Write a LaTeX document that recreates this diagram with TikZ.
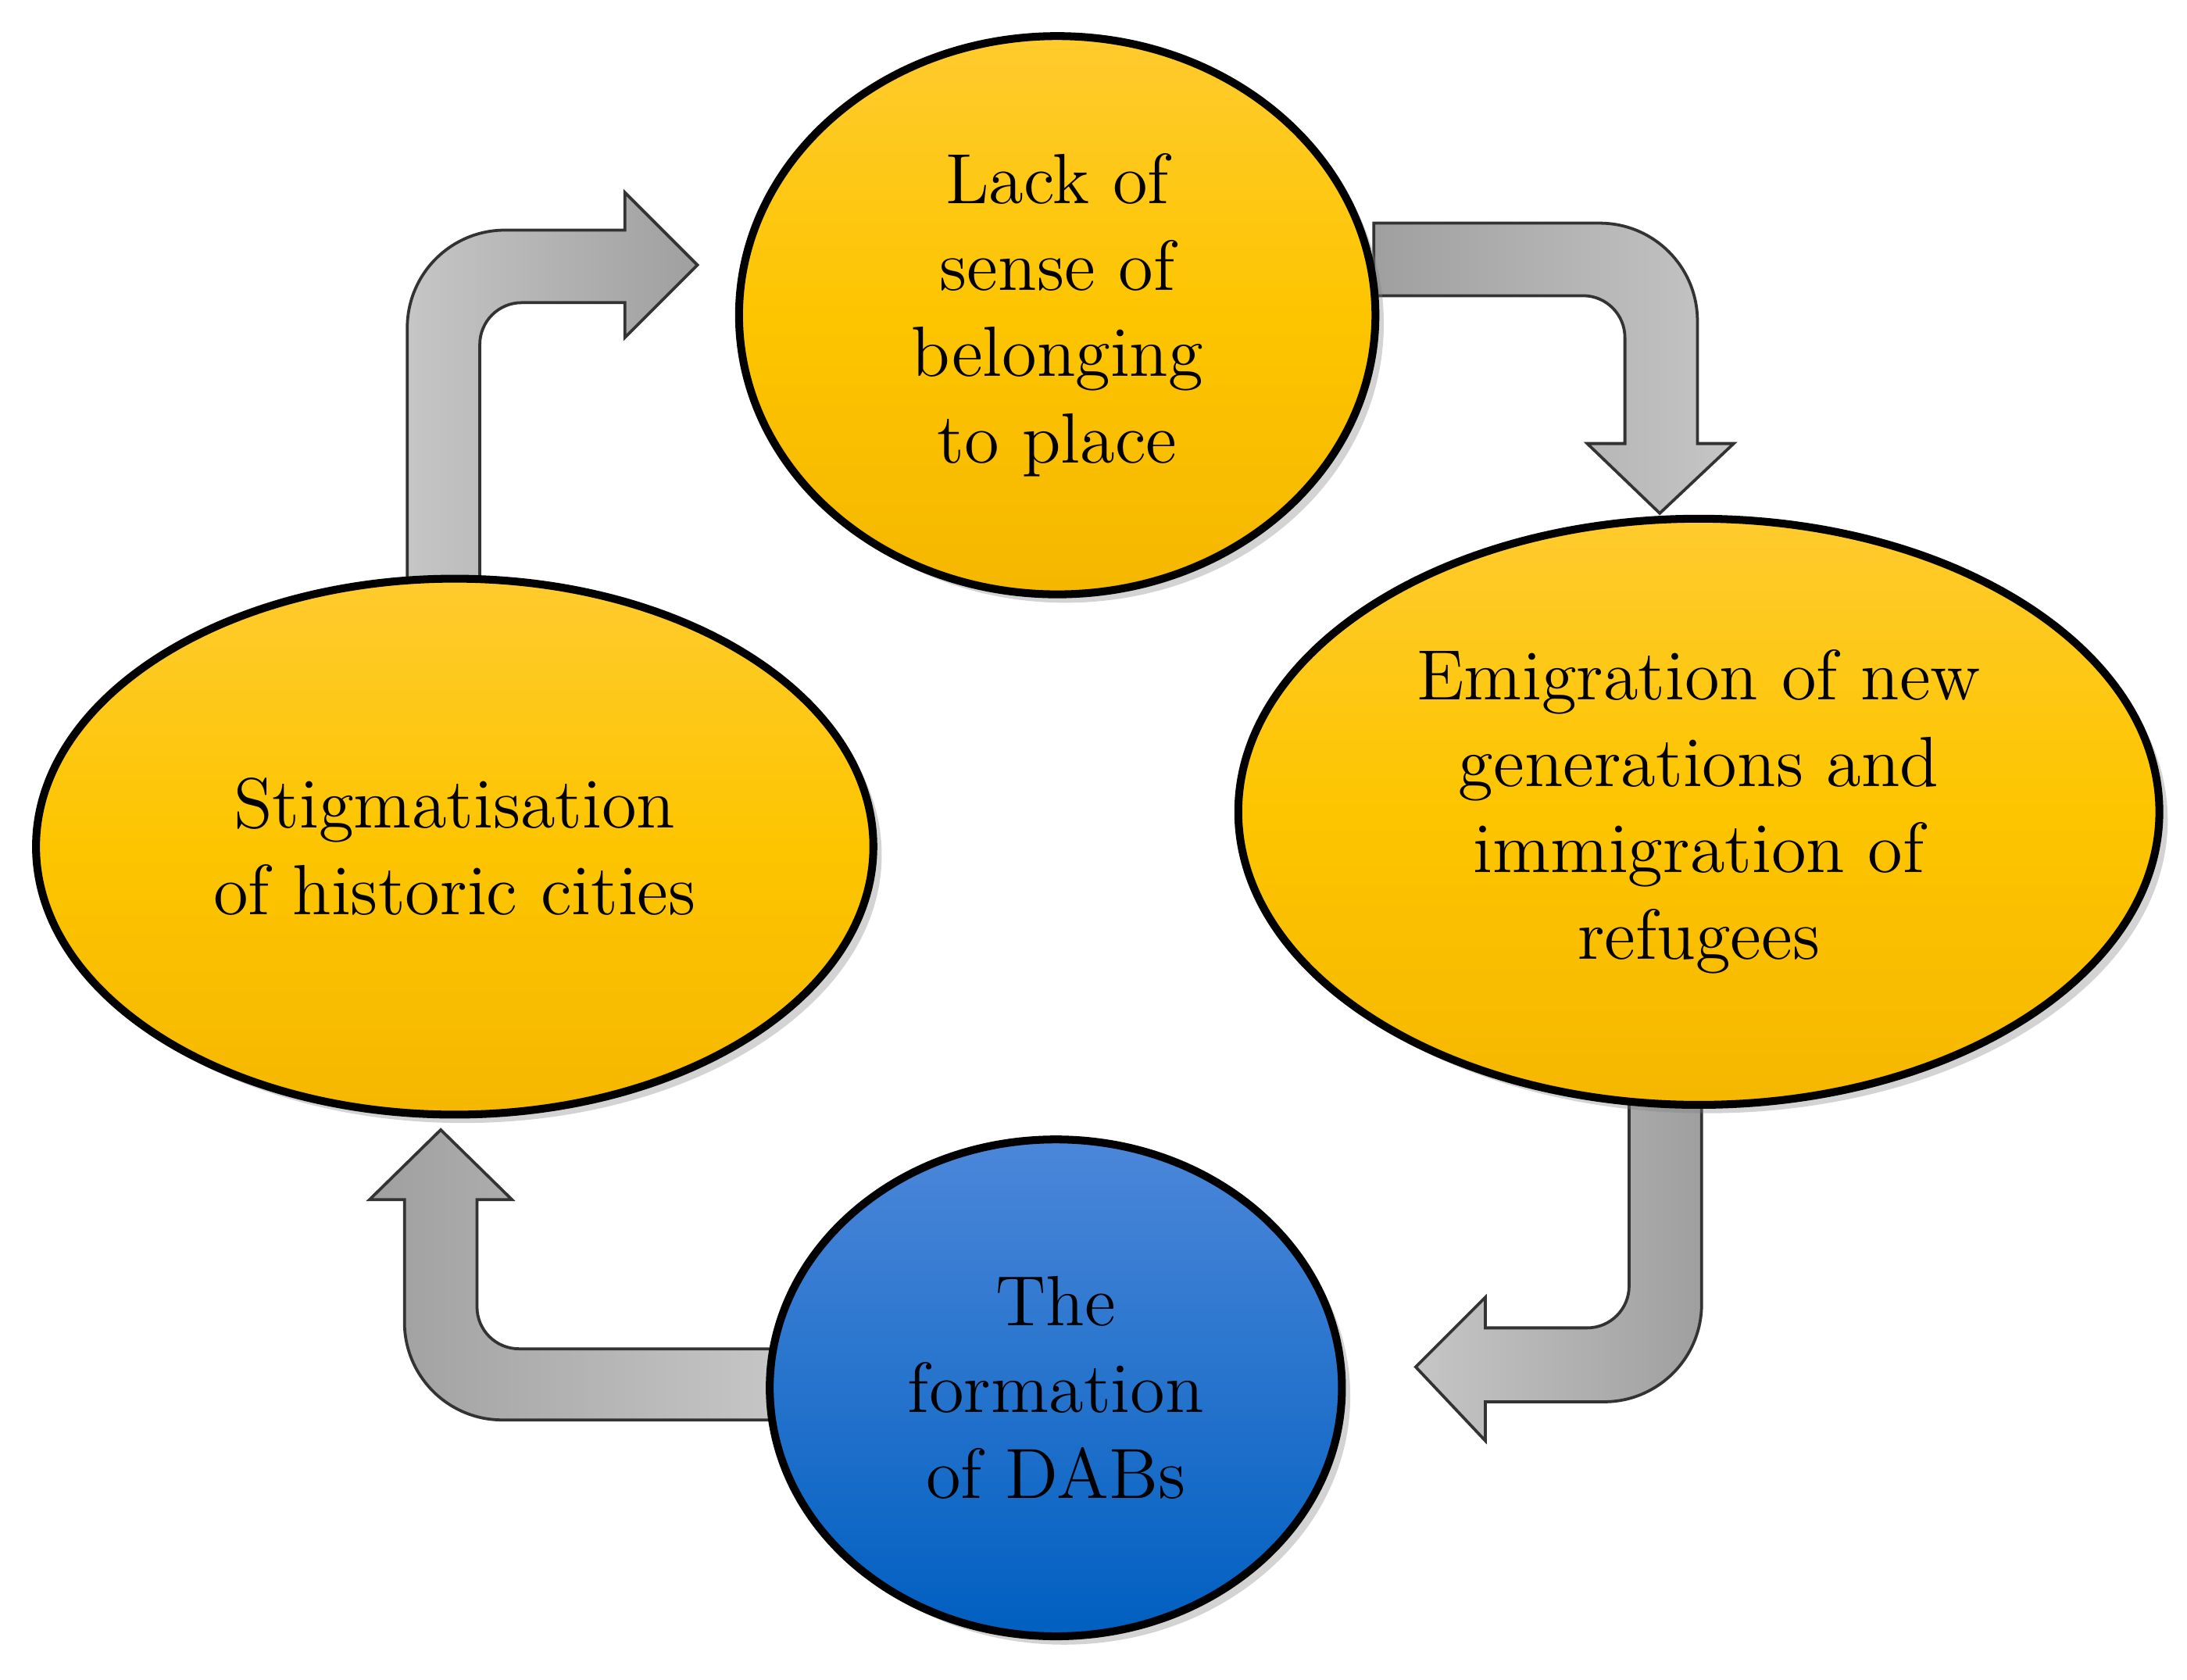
\documentclass[tikz,border=0pt]{standalone}
\usetikzlibrary{shadows,shapes.geometric}
\begin{document}
\begin{tikzpicture}[x=0.01cm,y=-0.01cm,
  arr/.style={draw=black!80,line width=0.6pt,top color=gray!75,bottom color=gray!45,shading angle=0},
  ell/.style={ellipse,draw=black,line width=1.6pt,drop shadow={opacity=0.35,shadow xshift=0.06cm,shadow yshift=-0.06cm},align=center,font=\fontsize{14.5}{17.6}\selectfont,inner sep=0pt},
]
\useasboundingbox (0,0) rectangle (1568,1204);
\definecolor{ytop}{HTML}{FFCB2E}\definecolor{ybot}{HTML}{F5B700}\definecolor{ymid}{HTML}{FDC500}
\definecolor{btop}{HTML}{4B87D9}\definecolor{bbot}{HTML}{005FC0}
% arrows
\path[arr,left color=gray!45,right color=gray!75,shading angle=90] (292,415) [rounded corners=0.7cm] -- (292,165) [sharp corners] -- (448,165) -- (448,138) -- (500,190) -- (448,242) -- (448,217) [rounded corners=0.3cm] -- (344,217) [sharp corners] -- (344,415) -- cycle;
\path[arr,left color=gray!75,right color=gray!45] (985,160) [rounded corners=0.7cm] -- (1217,160) [sharp corners] -- (1217,318) -- (1243,318) -- (1190,368) -- (1138,318) -- (1165,318) [rounded corners=0.3cm] -- (1165,212) [sharp corners] -- (985,212) -- cycle;
\path[arr,left color=gray!45,right color=gray!75] (1220,790) [rounded corners=0.7cm] -- (1220,1005) [sharp corners] -- (1065,1005) -- (1065,1033) -- (1015,980) -- (1065,930) -- (1065,952) [rounded corners=0.3cm] -- (1168,952) [sharp corners] -- (1168,790) -- cycle;
\path[arr,left color=gray!75,right color=gray!45] (555,1018) [rounded corners=0.7cm] -- (290,1018) [sharp corners] -- (290,860) -- (265,860) -- (316,810) -- (367,860) -- (342,860) [rounded corners=0.3cm] -- (342,967) [sharp corners] -- (555,967) -- cycle;
% ellipses
\node[ell,top color=ytop,bottom color=ybot,middle color=ymid,minimum width=4.56cm,minimum height=4.0cm] (top) at (758,226) {Lack of\\sense of\\belonging\\to place};
\node[ell,top color=ytop,bottom color=ybot,middle color=ymid,minimum width=6.6cm,minimum height=4.2cm] (right) at (1218,582) {Emigration of new\\generations and\\immigration of\\refugees};
\node[ell,top color=ytop,bottom color=ybot,middle color=ymid,minimum width=6.0cm,minimum height=3.84cm] (left) at (326,607) {Stigmatisation\\of historic cities};
\node[ell,top color=btop,bottom color=bbot,minimum width=4.1cm,minimum height=3.56cm] (dab) at (757,995) {The\\formation\\of DABs};
\end{tikzpicture}
\end{document}
